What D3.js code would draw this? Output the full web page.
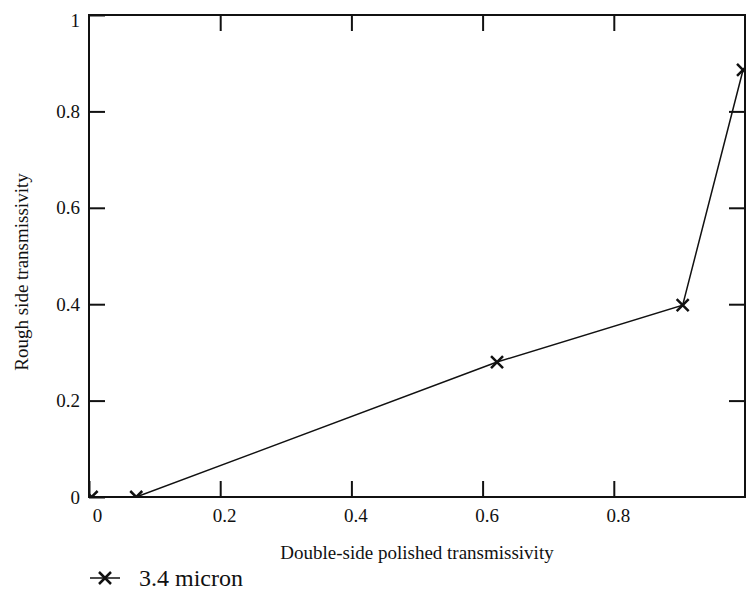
<!doctype html>
<html>

<head>
    <meta charset="utf-8">
    <title>Rough side vs double-side polished transmissivity</title>
    <style>
        body {
            margin: 0;
            background: #fff;
        }

        .axis path.domain {
            display: none;
        }

        .axis line {
            stroke: #111;
            stroke-width: 2;
        }
    </style>
    <script src="https://cdn.jsdelivr.net/npm/d3@7"></script>
</head>

<body>
    <svg width="746" height="595"></svg>
    <script>
        // values
        var seriesName = "3.4 micron";
        var polished = [0.004, 0.072, 0.622, 0.905, 0.997];
        var rough = [0, 0, 0.28, 0.398, 0.886];
        var xTicks = [0, 0.2, 0.4, 0.6, 0.8];
        var yTicks = [0, 0.2, 0.4, 0.6, 0.8, 1];
        var innerTicks = [0.2, 0.4, 0.6, 0.8];

        var points = polished.map(function (d, i) {
            return { x: d, y: rough[i] };
        });

        var serif = "'Liberation Serif', 'Times New Roman', serif";

        var svg = d3.select("svg"),
            plotL = 89, plotR = 745, plotT = 15, plotB = 497;

        var x = d3.scaleLinear().domain([0, 1]).range([plotL, plotR]),
            y = d3.scaleLinear().domain([0, 1]).range([plotB, plotT]);

        var fmt = function (d) { return d === 0 ? "0" : d === 1 ? "1" : d3.format(".1f")(d); };

        svg.append("defs").append("clipPath").attr("id", "plot")
            .append("rect")
            .attr("x", plotL).attr("y", plotT)
            .attr("width", plotR - plotL).attr("height", plotB - plotT);

        // bottom axis, ticks pointing inward
        var gx = svg.append("g")
            .attr("class", "axis")
            .attr("transform", "translate(0," + plotB + ")")
            .call(d3.axisBottom(x).tickValues(xTicks).tickSize(-16).tickPadding(12).tickFormat(fmt));
        gx.attr("font-family", serif).attr("font-size", 19);
        gx.selectAll("text").attr("fill", "#111")
            .attr("dx", function (d) { return d === 0 ? 8 : 4; });

        // left axis
        var gy = svg.append("g")
            .attr("class", "axis")
            .attr("transform", "translate(" + plotL + ",0)")
            .call(d3.axisLeft(y).tickValues(yTicks).tickSize(-16).tickPadding(9).tickFormat(fmt));
        gy.attr("font-family", serif).attr("font-size", 19);
        gy.selectAll("text").attr("fill", "#111")
            .attr("dy", function (d) { return d === 1 ? "0.6em" : "0.32em"; });

        // top and right: ticks only
        svg.append("g")
            .attr("class", "axis")
            .attr("transform", "translate(0," + plotT + ")")
            .call(d3.axisTop(x).tickValues(innerTicks).tickSize(-16).tickFormat(""));

        svg.append("g")
            .attr("class", "axis")
            .attr("transform", "translate(" + plotR + ",0)")
            .call(d3.axisRight(y).tickValues(innerTicks).tickSize(-16).tickFormat(""));

        // frame
        svg.append("rect")
            .attr("x", plotL).attr("y", plotT)
            .attr("width", plotR - plotL).attr("height", plotB - plotT)
            .attr("fill", "none")
            .attr("stroke", "#111")
            .attr("stroke-width", 2);

        var cross = "M-6,-6L6,6M-6,6L6,-6";

        var plot = svg.append("g").attr("clip-path", "url(#plot)");

        plot.append("path")
            .datum(points)
            .attr("fill", "none")
            .attr("stroke", "#111")
            .attr("stroke-width", 1.5)
            .attr("d", d3.line()
                .x(function (d) { return x(d.x); })
                .y(function (d) { return y(d.y); }));

        plot.selectAll(".mark")
            .data(points)
            .enter().append("path")
            .attr("class", "mark")
            .attr("transform", function (d) {
                return "translate(" + x(d.x) + "," + y(d.y) + ")";
            })
            .attr("d", cross)
            .attr("stroke", "#111")
            .attr("stroke-width", 2.5);

        // axis titles
        svg.append("text")
            .attr("x", 417)
            .attr("y", 559)
            .attr("text-anchor", "middle")
            .attr("font-family", serif)
            .attr("font-size", 19)
            .attr("fill", "#111")
            .text("Double-side polished transmissivity");

        svg.append("text")
            .attr("transform", "translate(28,272) rotate(-90)")
            .attr("text-anchor", "middle")
            .attr("font-family", serif)
            .attr("font-size", 19)
            .attr("fill", "#111")
            .text("Rough side transmissivity");

        // legend
        var lg = svg.append("g").attr("transform", "translate(90,578)");
        lg.append("line")
            .attr("x1", 0).attr("x2", 30)
            .attr("stroke", "#111").attr("stroke-width", 1.5);
        lg.append("path")
            .attr("transform", "translate(15,0)")
            .attr("d", cross)
            .attr("stroke", "#111").attr("stroke-width", 2.5);
        lg.append("text")
            .attr("x", 49)
            .attr("y", 8)
            .attr("font-family", serif)
            .attr("font-size", 24)
            .attr("fill", "#111")
            .text(seriesName);
    </script>
</body>

</html>
